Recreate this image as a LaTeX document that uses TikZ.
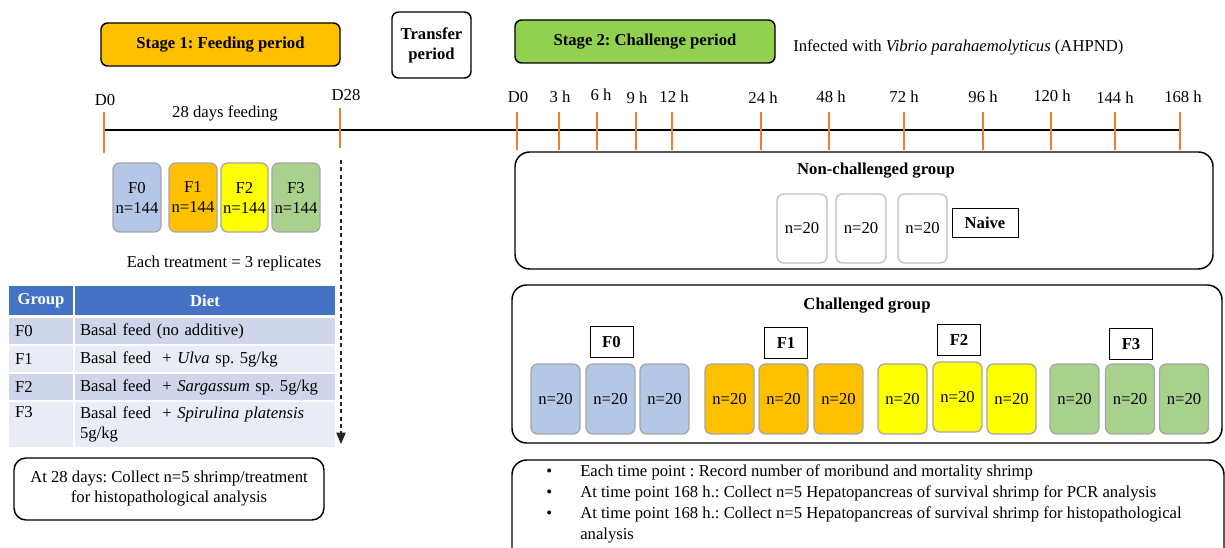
\documentclass[tikz,border=0pt]{standalone}
\usepackage{fontspec}
\setmainfont{Liberation Serif}
\frenchspacing
\usetikzlibrary{arrows.meta}
\definecolor{gold}{HTML}{FFC000}
\definecolor{lgreen}{HTML}{92D050}
\definecolor{fblue}{HTML}{B4C7E7}
\definecolor{fyellow}{HTML}{FFFF00}
\definecolor{fgreen}{HTML}{A9D18E}
\definecolor{hblue}{HTML}{4472C4}
\definecolor{rowA}{HTML}{CFD5EA}
\definecolor{rowB}{HTML}{E9EBF5}
\definecolor{tickc}{HTML}{ED7D31}
\definecolor{cellgray}{HTML}{A6A6A6}
\definecolor{ncgray}{HTML}{BFBFBF}
\begin{document}
\begin{tikzpicture}[x=0.75pt,y=-0.75pt,
  every node/.style={font=\fontsize{12.5}{15}\selectfont, inner sep=0pt},
  stagebox/.style={draw=black, line width=1.1pt, rounded corners=5pt, font=\fontsize{12.5}{15}\selectfont\bfseries, align=center},
  tmark/.style={draw=tickc, line width=1pt},
  fcell/.style={draw=cellgray, line width=1pt, rounded corners=5pt, align=center, minimum width=36pt, minimum height=51.75pt},
  ncell/.style={draw=ncgray, fill=white, line width=1pt, rounded corners=5pt, minimum width=37.5pt, minimum height=51.75pt},
  ccell/.style={draw=cellgray, line width=1pt, rounded corners=5pt, minimum width=36.75pt, minimum height=52.5pt},
  glabel/.style={draw=black, line width=0.6pt, fill=white, font=\fontsize{12.5}{15}\selectfont\bfseries, minimum width=32.25pt, minimum height=23.25pt},
  container/.style={draw=black, line width=1.1pt, rounded corners=11pt},
  hcell/.style={fill=hblue, text=white, font=\fontsize{12.5}{15}\selectfont\bfseries, minimum height=21.75pt},
  cola/.style={text width=39pt, inner xsep=4.5pt, align=left},
  colb/.style={text width=187.5pt, inner xsep=3.75pt, align=left},
  boldtitle/.style={font=\fontsize{12.5}{15}\selectfont\bfseries},
]
\useasboundingbox (0,0) rectangle (1225,548);

% stage boxes
\node[stagebox, fill=gold, minimum width=179.25pt, minimum height=32.25pt] (stage1) at (220.5,44.5) {Stage 1: Feeding period};
\node[stagebox, fill=white, minimum width=59.25pt, minimum height=49.5pt] (transfer) at (431.5,45) {Transfer\\period};
\node[stagebox, fill=lgreen, minimum width=195pt, minimum height=32.25pt] (stage2) at (645,41.5) {Stage 2: Challenge period};
\node[anchor=west] (infect) at (793,47) {Infected with \textit{Vibrio parahaemolyticus} (AHPND)};

% timeline
\coordinate (tlstart) at (104,130);
\coordinate (tlend) at (1180,130);
\draw[line width=1.1pt] (tlstart) -- (tlend);
\draw[tmark] (104,112) -- (104,153);
\draw[tmark] (340,108) -- (340,148);
\foreach \x in {517,559,597,636,672,761,829,904,983,1051,1115,1180}
  \draw[tmark] (\x,112) -- (\x,150);
\node (lD0) at (105,100) {D0};
\node (lD28) at (346,95) {D28};
\node (lfeed) at (225,113) {28 days feeding};
\node (rD0) at (518,97) {D0};
\node (h3) at (560,97) {3 h};
\node (h6) at (601,95) {6 h};
\node (h9) at (637,98) {9 h};
\node (h12) at (674,97) {12 h};
\node (h24) at (763,98) {24 h};
\node (h48) at (831,97) {48 h};
\node (h72) at (904,97) {72 h};
\node (h96) at (983,97) {96 h};
\node (h120) at (1052,96) {120 h};
\node (h144) at (1115,98) {144 h};
\node (h168) at (1183,97) {168 h};

% feeding groups
\node[fcell, fill=fblue] (fF0) at (137,197.5) {F0\\n=144};
\node[fcell, fill=gold] (fF1) at (193,197.5) {F1\\n=144};
\node[fcell, fill=fyellow, minimum width=35.25pt] (fF2) at (244.5,197.5) {F2\\n=144};
\node[fcell, fill=fgreen] (fF3) at (296,197.5) {F3\\n=144};
\node (reps) at (224,263) {Each treatment = 3 replicates};

% dashed arrow
\coordinate (arrtop) at (341,160);
\coordinate (arrbot) at (341,444);
\draw[dash pattern=on 3pt off 2.5pt, line width=0.8pt, black!85, -{Triangle[length=8.5pt,width=7pt]}] (arrtop) -- (arrbot);

% table
\node[hcell, minimum width=48pt] (thA) at (41,300.5) {Group};
\node[hcell, minimum width=195pt] (thB) at (205,300.5) {Diet};
\node[fill=rowA, cola, minimum height=19.5pt] (r0a) at (41,331) {F0};
\node[fill=rowA, colb, minimum height=19.5pt] (r0b) at (205,331) {Basal feed (no additive)};
\node[fill=rowB, cola, minimum height=19.5pt] (r1a) at (41,359) {F1};
\node[fill=rowB, colb, minimum height=19.5pt] (r1b) at (205,359) {Basal feed~ + \textit{Ulva} sp. 5g/kg};
\node[fill=rowA, cola, minimum height=19.5pt] (r2a) at (41,387) {F2};
\node[fill=rowA, colb, minimum height=19.5pt] (r2b) at (205,387) {Basal feed~ + \textit{Sargassum} sp. 5g/kg};
\node[fill=rowB, cola, minimum height=33.75pt] (r3a) at (41,424.5) {F3\\\strut};
\node[fill=rowB, colb, minimum height=33.75pt] (r3b) at (205,424.5) {Basal feed~ + \textit{Spirulina platensis}\\5g/kg};

% bottom-left note
\node[draw=black, line width=1.1pt, rounded corners=9pt, align=center, minimum width=232.5pt, minimum height=46.5pt] (note28) at (169,489) {At 28 days: Collect n=5 shrimp/treatment\\for histopathological analysis};

% non-challenged group
\node[container, minimum width=523.5pt, minimum height=87.75pt] (nonch) at (864,210.5) {};
\node[boldtitle] (nontitle) at (876,171) {Non-challenged group};
\node[ncell] (n1) at (802,228.5) {n=20};
\node[ncell] (n2) at (861,228.5) {n=20};
\node[ncell, minimum width=36.75pt] (n3) at (922.5,228.5) {n=20};
\node[draw=black, line width=0.6pt, boldtitle, minimum width=49.5pt, minimum height=21.75pt] (naive) at (985,222.5) {Naive};

% challenged group
\node[container, minimum width=532.5pt, minimum height=118.5pt] (chal) at (867,364) {};
\node[boldtitle] (chtitle) at (867,306) {Challenged group};
\node[glabel] (gF0) at (611.5,342) {F0};
\node[glabel] (gF1) at (786,343) {F1};
\node[glabel] (gF2) at (959,340) {F2};
\node[glabel] (gF3) at (1131,344) {F3};
\node[ccell, fill=fblue] (c01) at (555.5,399) {n=20};
\node[ccell, fill=fblue] (c02) at (610.5,399) {n=20};
\node[ccell, fill=fblue] (c03) at (664.5,399) {n=20};
\node[ccell, fill=gold] (c11) at (729.5,399) {n=20};
\node[ccell, fill=gold] (c12) at (783.5,399) {n=20};
\node[ccell, fill=gold] (c13) at (838.5,399) {n=20};
\node[ccell, fill=fyellow] (c21) at (902.5,399) {n=20};
\node[ccell, fill=fyellow] (c22) at (957.5,397) {n=20};
\node[ccell, fill=fyellow] (c23) at (1011.5,399) {n=20};
\node[ccell, fill=fgreen] (c31) at (1074.5,399) {n=20};
\node[ccell, fill=fgreen] (c32) at (1130,399) {n=20};
\node[ccell, fill=fgreen] (c33) at (1184,399) {n=20};

% bottom-right notes
\coordinate (brbl) at (512,548);
\coordinate (brtl) at (512,460);
\coordinate (brtr) at (1224,460);
\coordinate (brbr) at (1224,548);
\draw[line width=1.1pt, rounded corners=11pt] (brbl) -- (brtl) -- (brtr) -- (brbr);
\node[anchor=north west, font=\fontsize{12.5}{15.75}\selectfont] (notes) at (546,462) {%
\begin{tabular}{@{}p{25.5pt}@{}l@{}}
\textbullet & Each time point : Record number of moribund and mortality shrimp\\
\textbullet & At time point 168 h.: Collect n=5 Hepatopancreas of survival shrimp for PCR analysis\\
\textbullet & At time point 168 h.: Collect n=5 Hepatopancreas of survival shrimp for histopathological\\
 & analysis
\end{tabular}};
\end{tikzpicture}
\end{document}
